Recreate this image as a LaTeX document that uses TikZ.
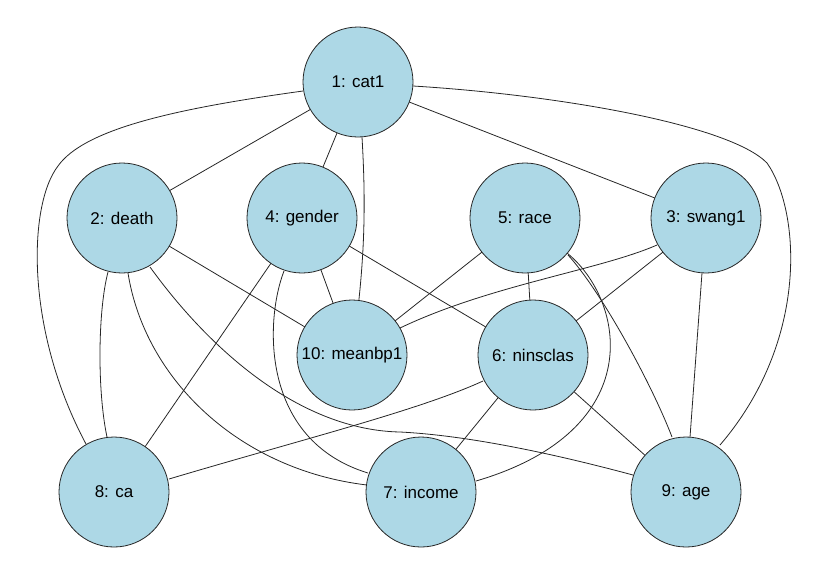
\documentclass[tikz,border=0pt]{standalone}
\usepackage{fontspec}
\setmainfont{Liberation Sans}
\definecolor{nodefill}{RGB}{173,216,230}
\begin{document}
\begin{tikzpicture}[x=1pt,y=-1pt,
  vnode/.style={circle,draw=black!85,line width=0.8pt,fill=nodefill,minimum size=110pt,inner sep=0pt,font=\fontsize{17}{20}\selectfont},
  edge/.style={draw=black!85,line width=0.8pt}]
\useasboundingbox (0,0) rectangle (826,574);
\coordinate (p1) at (358,82);
\coordinate (p2) at (122,218);
\coordinate (p4) at (302,218);
\coordinate (p5) at (525,218);
\coordinate (p3) at (706,218);
\coordinate (p10) at (352,355);
\coordinate (p6) at (533,355);
\coordinate (p8) at (114,492);
\coordinate (p7) at (421,492);
\coordinate (p9) at (686,492);
\coordinate (k18) at (58,166);
\coordinate (k19) at (767,163);
\coordinate (k29) at (400,432);
% edges (drawn first, behind nodes)
\draw[edge] (p1) -- (p2);
\draw[edge] (p1) -- (p4);
\draw[edge] (p1) -- (p3);
\draw[edge] (p1) .. controls (367,190) and (367,250) .. (p10);
\draw[edge] (303,91) .. controls (180,108) and (85,128) .. (k18) .. controls (28,205) and (25,330) .. (86,444);
\draw[edge] (413,86) .. controls (560,95) and (730,125) .. (k19) .. controls (800,210) and (810,340) .. (720,445);
\draw[edge] (p2) -- (p10);
\draw[edge] (108,272) .. controls (98,310) and (97,390) .. (107,437);
\draw[edge] (128,273) .. controls (145,380) and (240,470) .. (367,485);
\draw[edge] (150,267) .. controls (210,350) and (300,430) .. (k29) .. controls (460,435) and (540,450) .. (633,475);
\draw[edge] (p4) -- (p10);
\draw[edge] (p4) -- (p6);
\draw[edge] (p4) -- (p8);
\draw[edge] (284,271) .. controls (265,320) and (260,440) .. (368,473);
\draw[edge] (p5) -- (p10);
\draw[edge] (p5) -- (p6);
\draw[edge] (567,253) .. controls (625,300) and (650,430) .. (476,481);
\draw[edge] (568,255) .. controls (600,290) and (650,380) .. (672,437);
\draw[edge] (657,245) .. controls (600,270) and (490,285) .. (400,328);
\draw[edge] (p3) -- (p6);
\draw[edge] (p3) -- (p9);
\draw[edge] (483,381) .. controls (420,410) and (300,440) .. (169,479);
\draw[edge] (p6) -- (p7);
\draw[edge] (p6) -- (p9);
% nodes
\node[vnode] (n1) at (p1) {1: cat1};
\node[vnode] (n2) at (p2) {2: death};
\node[vnode] (n4) at (p4) {4: gender};
\node[vnode] (n5) at (p5) {5: race};
\node[vnode] (n3) at (p3) {3: swang1};
\node[vnode] (n10) at (p10) {10: meanbp1};
\node[vnode] (n6) at (p6) {6: ninsclas};
\node[vnode] (n8) at (p8) {8: ca};
\node[vnode] (n7) at (p7) {7: income};
\node[vnode] (n9) at (p9) {9: age};
\end{tikzpicture}
\end{document}
